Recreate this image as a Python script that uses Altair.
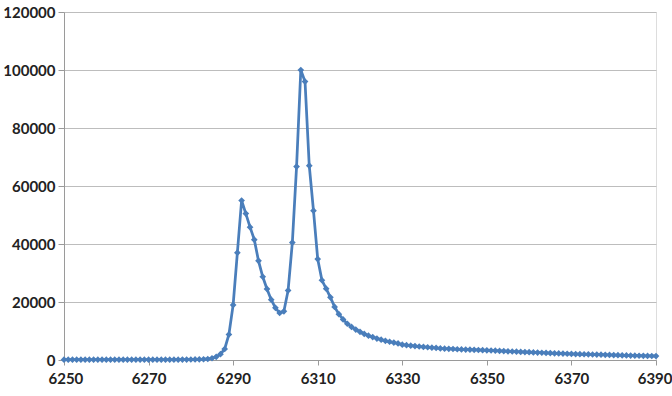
import altair as alt
import pandas as pd

x_start = 6250
values = [
    # 6250-6259
    100, 100, 100, 100, 100, 100, 100, 100, 100, 100,
    # 6260-6269
    100, 100, 100, 100, 100, 100, 100, 100, 100, 100,
    # 6270-6279
    100, 100, 100, 100, 100, 100, 100, 120, 130, 150,
    # 6280-6289
    170, 190, 220, 260, 350, 600, 1100, 2000, 3800, 8800,
    # 6290-6299
    19000, 37000, 55000, 50500, 45800, 41500, 34200, 28700, 24500, 20800,
    # 6300-6309
    18000, 16200, 16800, 24000, 40500, 66700, 100000, 96000, 67000, 51500,
    # 6310-6319
    34800, 27500, 24600, 21600, 18300, 15800, 14000, 12500, 11400, 10500,
    # 6320-6329
    9700, 9000, 8400, 7900, 7400, 7000, 6600, 6300, 6000, 5700,
    # 6330-6339
    5300, 5100, 4950, 4800, 4650, 4500, 4400, 4250, 4150, 4000,
    # 6340-6349
    3900, 3850, 3800, 3700, 3650, 3600, 3550, 3500, 3450, 3400,
    # 6350-6359
    3350, 3280, 3210, 3140, 3070, 3000, 2930, 2860, 2800, 2740,
    # 6360-6369
    2680, 2620, 2560, 2500, 2440, 2380, 2320, 2260, 2200, 2150,
    # 6370-6379
    2100, 2060, 2020, 1980, 1940, 1900, 1860, 1820, 1780, 1740,
    # 6380-6390
    1700, 1660, 1620, 1580, 1540, 1500, 1470, 1440, 1410, 1380, 1350,
]
x_values = list(range(x_start, x_start + len(values)))
x_ticks = [6250, 6270, 6290, 6310, 6330, 6350, 6370, 6390]
y_ticks = [0, 20000, 40000, 60000, 80000, 100000, 120000]

df = pd.DataFrame({"x": x_values, "y": values})

FONT = "Lato"
BLUE = "#4A7EBB"

chart = (
    alt.Chart(df)
    .mark_line(
        color=BLUE,
        strokeWidth=2.75,
        point=alt.OverlayMarkDef(shape="diamond", size=45, filled=True, color=BLUE),
    )
    .encode(
        x=alt.X(
            "x:Q",
            scale=alt.Scale(domain=[6250, 6390], nice=False, zero=False),
            axis=alt.Axis(
                values=x_ticks,
                title=None,
                grid=False,
                labelFont=FONT,
                labelFontSize=15,
                labelFontWeight="bold",
                labelColor="#222222",
                labelPadding=6,
                tickColor="#9a9a9a",
                tickSize=5,
                domainColor="#9a9a9a",
                format="d",
                labelFlush=True,
                labelFlushOffset=16,
            ),
        ),
        y=alt.Y(
            "y:Q",
            scale=alt.Scale(domain=[0, 120000], nice=False),
            axis=alt.Axis(
                values=y_ticks,
                title=None,
                grid=True,
                gridColor="#bdbdbd",
                labelFont=FONT,
                labelFontSize=15,
                labelFontWeight="bold",
                labelColor="#222222",
                labelPadding=3,
                tickColor="#9a9a9a",
                tickSize=6,
                domainColor="#9a9a9a",
                format="d",
            ),
        ),
    )
    .properties(
        width=592,
        height=348,
        autosize=alt.AutoSizeParams(type="none"),
        padding={"left": 64, "top": 12, "right": 16, "bottom": 36},
    )
    .configure_view(stroke=None)
    .configure(background="white")
)

chart.save("out.html", embed_options={"renderer": "svg", "actions": False})
